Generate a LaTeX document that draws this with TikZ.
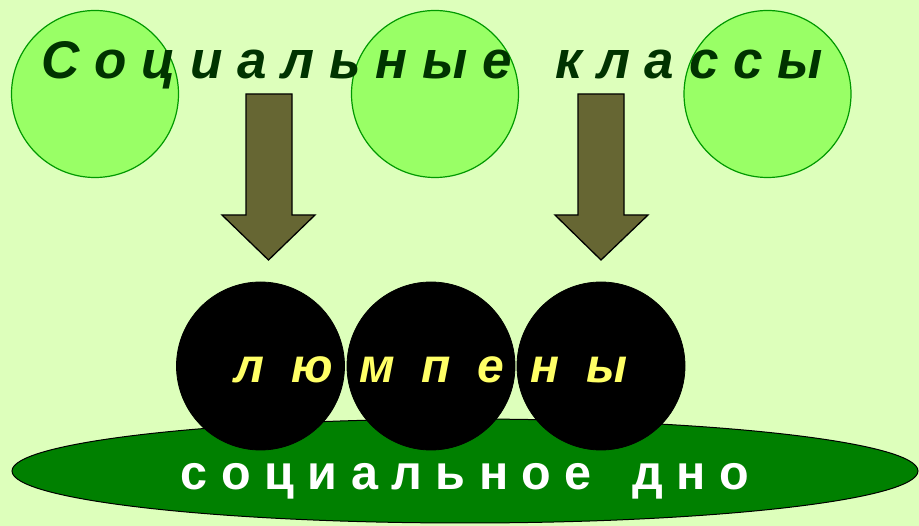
\documentclass[tikz,border=0pt]{standalone}
\usepackage{fontspec}
\setmainfont{Liberation Sans}
\usetikzlibrary{shapes.geometric}
\definecolor{bgc}{RGB}{221,255,187}
\definecolor{lightc}{RGB}{153,255,102}
\definecolor{lightb}{RGB}{0,153,0}
\definecolor{titlec}{RGB}{0,51,0}
\definecolor{arrowc}{RGB}{102,102,51}
\definecolor{groundc}{RGB}{0,128,0}
\definecolor{yellowc}{RGB}{255,255,102}
\tikzset{
  classcircle/.style={circle,inner sep=0pt,minimum size=167pt,fill=lightc,draw=lightb,line width=1.2pt},
  lumpcircle/.style={circle,inner sep=0pt,minimum size=168pt,fill=black,draw=black,line width=0.8pt},
  blockarrow/.style={fill=arrowc,draw=black,line width=1.3pt,line join=miter},
  ground/.style={ellipse,inner sep=0pt,minimum width=906pt,minimum height=104pt,fill=groundc,draw=black,line width=1pt},
}
\begin{document}
\begin{tikzpicture}[x=1pt,y=-1pt]
\fill[bgc] (0,0) rectangle (919,526);
\useasboundingbox (0,0) rectangle (919,526);
% top circles
\node[classcircle] (c1) at (95,94) {};
\node[classcircle] (c2) at (435,94) {};
\node[classcircle] (c3) at (767.5,94) {};
% arrows
\draw[blockarrow] (246,94) -- (292,94) -- (292,215) -- (315,215) -- (268.5,260) -- (222,215) -- (246,215) -- cycle;
\draw[blockarrow] (578,94) -- (624,94) -- (624,215) -- (648,215) -- (601,260) -- (555,215) -- (578,215) -- cycle;
% title
\node[anchor=base,inner sep=0pt,text=titlec,font=\fontsize{53}{58}\selectfont\bfseries\itshape] (title) at (432,79) {С о ц и а л ь н ы е~~~к л а с с ы};
% ground
\node[ground] (g) at (465,471) {};
% lumpen circles
\node[lumpcircle] (l1) at (260.5,366) {};
\node[lumpcircle] (l2) at (431,366) {};
\node[lumpcircle] (l3) at (601,366) {};
\node[anchor=base,inner sep=0pt,text=yellowc,font=\fontsize{48}{52}\selectfont\bfseries\itshape] (lt) at (431,383) {л~~ю~~м~~п~~е~~н~~ы};
\node[anchor=base,inner sep=0pt,text=white,font=\fontsize{48.5}{54}\selectfont\bfseries] (gt) at (465,490) {с о ц и а л ь н о е~~~д н о};
\end{tikzpicture}
\end{document}
